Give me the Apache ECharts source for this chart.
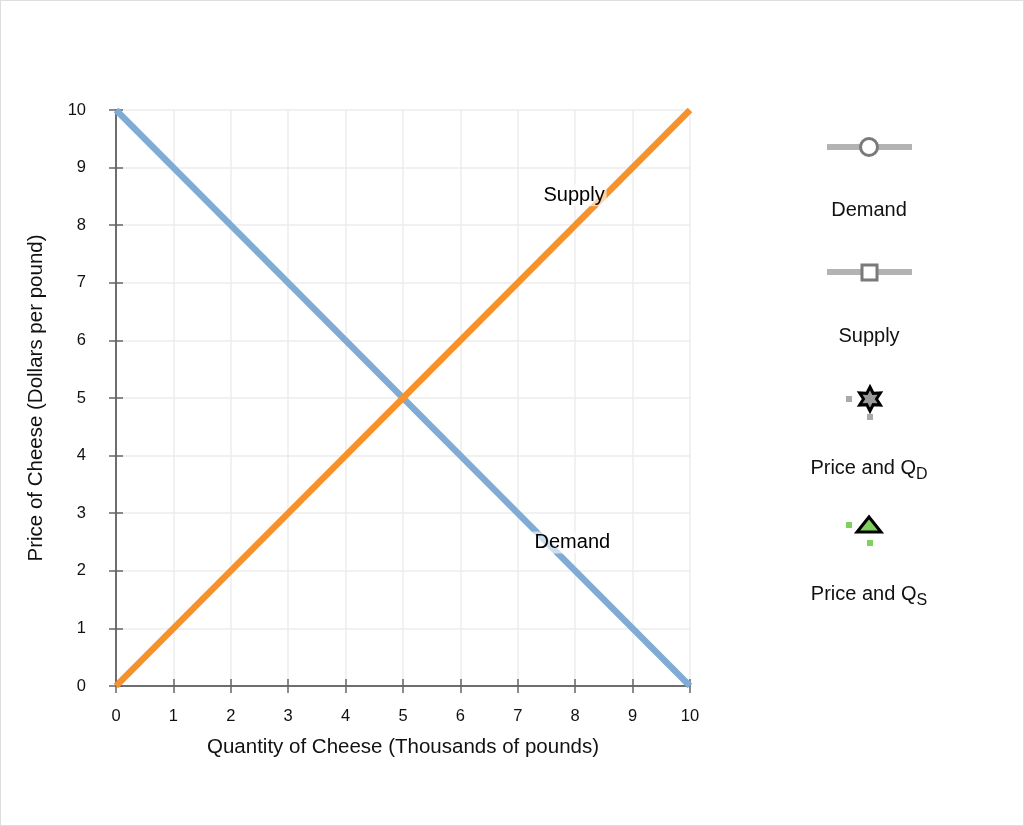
<!DOCTYPE html>
<html><head><meta charset="utf-8">
<script src="https://cdn.jsdelivr.net/npm/echarts@6/dist/echarts.min.js"></script>
<style>html,body{margin:0;padding:0;background:#fff}#c{width:1024px;height:826px;box-sizing:border-box;border:1px solid #ddd}</style>
</head><body><div id="c"></div>
<script>
const xTicks = [0,1,2,3,4,5,6,7,8,9,10];
const yTicks = [0,1,2,3,4,5,6,7,8,9,10];
const demandX = [0, 10];
const demandY = [10, 0];
const supplyX = [0, 10];
const supplyY = [0, 10];
const legendNames = ['Demand', 'Supply', 'Price and Q', 'Price and Q'];
const legendSubs = ['', '', 'D', 'S'];
const labelSupply = [7.98, 8.52];
const labelDemand = [7.95, 2.49];

const chart = echarts.init(document.getElementById('c'));
const font = 'Liberation Sans, Arial, sans-serif';
const axisCommon = {
  type: 'value', min: 0, max: 10, interval: 1,
  axisLine: {show: true, lineStyle: {color: '#666', width: 1.5}},
};
const cx = 868;
function legendText(i, y) {
  return {type: 'text', x: cx, y: y, z: 10, style: {
    text: legendSubs[i] ? '{a|' + legendNames[i] + '}{b|' + legendSubs[i] + '}' : '{a|' + legendNames[i] + '}',
    rich: {a: {fontSize: 20, fontFamily: font, fill: '#111'}, b: {fontSize: 16, fontFamily: font, fill: '#111', padding: [14,0,0,0]}},
    align: 'center', verticalAlign: 'middle', fontFamily: font
  }};
}
function starPts(x, y, R, r) {
  const p = [];
  for (let k = 0; k < 12; k++) {
    const a = -Math.PI/2 + k*Math.PI/6;
    const rr = k % 2 ? r : R;
    p.push([x + rr*Math.cos(a), y + rr*Math.sin(a)]);
  }
  return p;
}
chart.setOption({
  animation: false,
  grid: {left: 115, right: 333, top: 109, bottom: 139},
  xAxis: [
    Object.assign({}, axisCommon, {
      position: 'bottom',
      name: 'Quantity of Cheese (Thousands of pounds)', nameLocation: 'middle', nameGap: 51,
      nameTextStyle: {fontSize: 20.5, fontFamily: font, color: '#111'},
      axisTick: {show: true, length: 7, lineStyle: {color: '#666', width: 1.5}},
      axisLabel: {fontSize: 16.5, fontFamily: font, color: '#111', margin: 22,
        formatter: v => xTicks.includes(v) ? String(v) : ''},
      splitLine: {show: true, lineStyle: {color: '#ececec', width: 1.5}}
    }),
    Object.assign({}, axisCommon, {
      position: 'bottom',
      axisTick: {show: true, inside: true, length: 7, lineStyle: {color: '#666', width: 1.5}},
      axisLabel: {show: false}, splitLine: {show: false}
    })
  ],
  yAxis: [
    Object.assign({}, axisCommon, {
      position: 'left',
      name: 'Price of Cheese (Dollars per pound)', nameLocation: 'middle', nameGap: 69,
      nameTextStyle: {fontSize: 20.5, fontFamily: font, color: '#111'},
      axisTick: {show: true, length: 7, lineStyle: {color: '#666', width: 1.5}},
      axisLabel: {fontSize: 16.5, fontFamily: font, color: '#111', margin: 30,
        formatter: v => yTicks.includes(v) ? String(v) : ''},
      splitLine: {show: true, lineStyle: {color: '#ececec', width: 1.5}}
    }),
    Object.assign({}, axisCommon, {
      position: 'left',
      axisTick: {show: true, inside: true, length: 7, lineStyle: {color: '#666', width: 1.5}},
      axisLabel: {show: false}, splitLine: {show: false}
    })
  ],
  series: [
    {name: 'Demand', type: 'line', data: demandX.map((x, i) => [x, demandY[i]]),
     symbol: 'none', lineStyle: {color: '#80abd4', width: 6.5}, z: 3},
    {name: 'Supply', type: 'line', data: supplyX.map((x, i) => [x, supplyY[i]]),
     symbol: 'none', lineStyle: {color: '#f7912a', width: 6.5}, z: 4},
    {name: 'labels', type: 'scatter', symbolSize: 0, z: 10,
     itemStyle: {opacity: 1},
     data: [
       {value: labelSupply, label: {formatter: 'Supply'}},
       {value: labelDemand, label: {formatter: 'Demand'}}
     ],
     label: {show: true, opacity: 1, position: 'inside', fontSize: 20, fontFamily: font, color: '#000',
       backgroundColor: 'rgba(255,255,255,0.6)', padding: [1, 2]}}
  ],
  graphic: [
    {type: 'line', shape: {x1: 826, y1: 146, x2: 911, y2: 146}, style: {stroke: '#b3b3b3', lineWidth: 6}},
    {type: 'circle', shape: {cx: 868, cy: 146, r: 8.5}, style: {fill: '#fff', stroke: '#7a7a7a', lineWidth: 3}},
    legendText(0, 209),
    {type: 'line', shape: {x1: 826, y1: 271, x2: 911, y2: 271}, style: {stroke: '#b3b3b3', lineWidth: 6}},
    {type: 'rect', shape: {x: 861, y: 264, width: 15, height: 15}, style: {fill: '#fff', stroke: '#7a7a7a', lineWidth: 3}},
    legendText(1, 335),
    {type: 'rect', shape: {x: 845, y: 395, width: 6, height: 6}, style: {fill: '#aaa'}},
    {type: 'rect', shape: {x: 866, y: 413, width: 6, height: 6}, style: {fill: '#aaa'}},
    {type: 'polygon', shape: {points: starPts(869, 398, 12, 6.5)}, style: {fill: '#999', stroke: '#000', lineWidth: 3}},
    legendText(2, 467),
    {type: 'rect', shape: {x: 845, y: 521, width: 6, height: 6}, style: {fill: '#7fd15e'}},
    {type: 'rect', shape: {x: 866, y: 539, width: 6, height: 6}, style: {fill: '#7fd15e'}},
    {type: 'polygon', shape: {points: [[868, 516], [880, 531], [856, 531]]}, style: {fill: '#7fd15e', stroke: '#000', lineWidth: 3}},
    legendText(3, 593)
  ]
});
</script></body></html>
